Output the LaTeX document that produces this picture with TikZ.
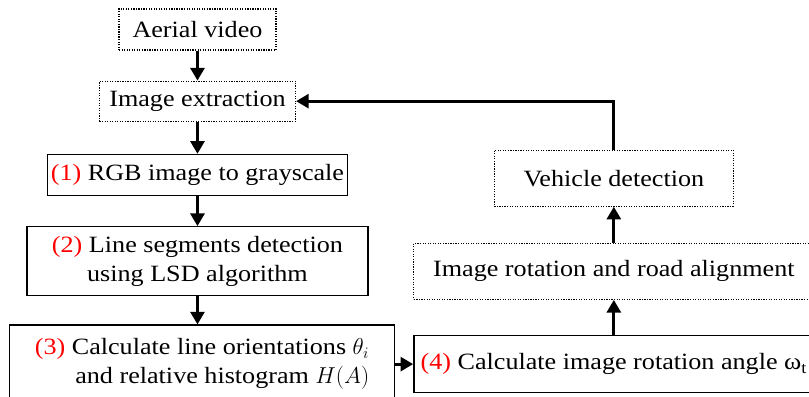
\documentclass[tikz,border=0pt]{standalone}
\usepackage{fontspec}
\setmainfont[FakeStretch=1.12]{Liberation Serif}
\usepackage{xcolor}
\usetikzlibrary{arrows.meta,positioning}
\newcommand{\stepno}[1]{\textcolor{red}{(#1)}}

\begin{document}
\begin{tikzpicture}[
    node distance=22.5pt and 13.5pt,
    box/.style={draw, align=center, inner sep=2pt,
                font=\fontsize{17.5}{21.75}\selectfont},
    dotbox/.style={box, densely dotted, line width=0.9pt},
    solbox/.style={box, line width=1pt},
    arr/.style={-{Triangle[length=9.5pt,width=10.5pt]}, line width=2.2pt},
  ]
  \useasboundingbox (0,0) rectangle (606.75pt,-297pt);
  \clip (0,0) rectangle (606.75pt,-297pt);

  \node[dotbox, minimum width=117.75pt, minimum height=30.75pt] (aer) at (148.1pt,-22.1pt) {Aerial video};
  \node[dotbox, minimum width=147pt, minimum height=30pt, below=of aer] (ext) {Image extraction};
  \node[solbox, minimum width=225pt, minimum height=30.75pt, below=24pt of ext] (rgb) {\stepno{1} RGB image to grayscale};
  \node[solbox, minimum width=255.75pt, minimum height=51.75pt, below=of rgb] (seg) {\stepno{2} Line segments detection\\ using LSD algorithm};
  \node[solbox, align=right, minimum width=288.75pt, minimum height=58.5pt, below=21pt of seg, xshift=3.4pt] (ori) {\stepno{3} Calculate line orientations $\theta_i$\\ and relative histogram $H(A)$};
  \node[solbox, minimum width=300pt, minimum height=42.75pt, right=of ori] (ang) {\stepno{4} Calculate image rotation angle ω\textsubscript{t}};
  \node[dotbox, minimum width=300pt, minimum height=42pt, above=26.25pt of ang] (rot) {Image rotation and road alignment};
  \node[dotbox, minimum width=179.25pt, minimum height=42pt, above=27pt of rot] (veh) {Vehicle detection};

  \draw[arr] (aer) -- (ext);
  \draw[arr] (ext) -- (rgb);
  \draw[arr] (rgb) -- (seg);
  \draw[arr] (seg.south) -- (seg.south |- ori.north);
  \draw[arr] (ori) -- (ang);
  \draw[arr] (ang) -- (rot);
  \draw[arr] (rot) -- (veh);
  \draw[arr] (veh.north) |- (ext.east);
\end{tikzpicture}
\end{document}
